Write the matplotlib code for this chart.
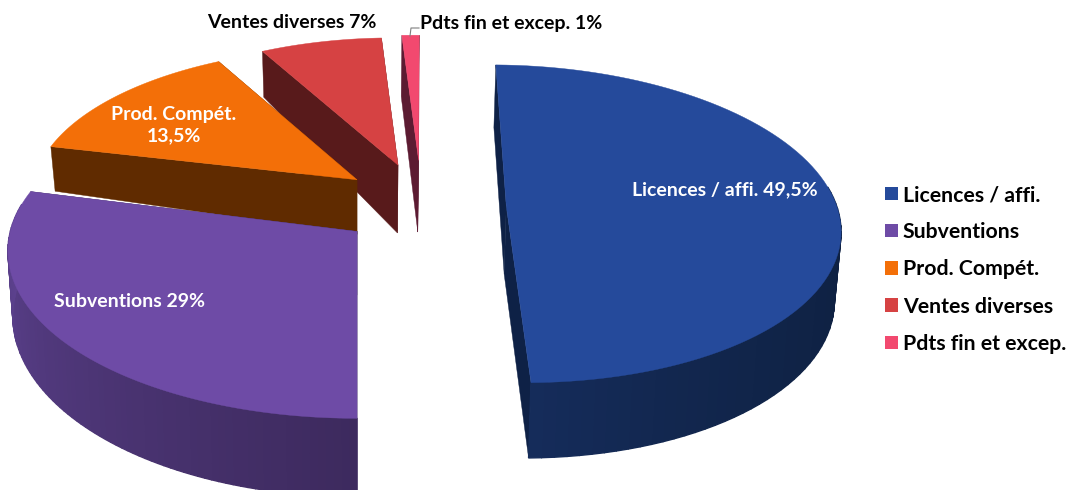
import numpy as np
import matplotlib
matplotlib.use("Agg")
import matplotlib.pyplot as plt
import matplotlib.colors as colors
from matplotlib.patches import Patch, Polygon

plt.rcParams['font.family'] = ['Lato', 'DejaVu Sans']

# ---data---
categories = ["Licences / affi.", "Subventions", "Prod. Compét.", "Ventes diverses", "Pdts fin et excep."]
shares = [49.5, 29, 13.5, 7, 1]
share_labels = ["Licences / affi. 49,5%", "Subventions 29%", "Prod. Compét.\n13,5%", "Ventes diverses 7%", "Pdts fin et excep. 1%"]

# ---styles---
top_colors = ["#254A9B", "#6E4BA6", "#F36F08", "#D64243", "#F2496F"]
side_start = ["#0E2040", "#3D2A5E", "#602B00", "#581A1B", "#5C1B32"]
side_end = ["#152C5A", "#604494", "#602B00", "#581A1B", "#5C1B32"]
wall_colors = ["#0E2146", "#3D2A5E", "#602B00", "#581A1B", "#5C1B32"]
grad_pow = [4, 1, 1, 1, 1]

# explosion offsets and radii of every slice, in pie radii
ox = [0.445, 0.0, 0.0, 0.126, 0.19]
oy = [0.12, -0.04, 0.29, 0.388, 0.42]
rx = [0.985, 1.015, 0.98, 0.95, 0.94]
ry = [1.0, 1.015, 0.97, 0.95, 0.94]
rot = [0.9, 1.8, 0.8, 1.0, 1.3]  # degrees
# wall height in pixels = p + q * y
depth_p = [60, 45, 0.6, 36, 58]
depth_q = [0.04, 0.08, 0.3, 0.193, 0.085]

# ---projection---
xv, yv = 357, -1189
H = 1414
F = 340
k = 0.114


def project(X, Y):
    w = 1 + k * Y
    return xv + F * X / w, yv + H / w


def sink(x, y, i):
    d = depth_p[i] + depth_q[i] * y
    return xv + (x - xv) * 0.986, y + d


fig = plt.figure(figsize=(10.69, 4.9), dpi=100)
ax = fig.add_axes([0, 0, 1, 1])
ax.set_xlim(0, 1069)
ax.set_ylim(490, 0)
ax.axis("off")

edges = np.cumsum([0] + shares) / sum(shares) * 2 * np.pi

# back slices first
for i in range(len(shares) - 1, -1, -1):
    t = np.linspace(edges[i], edges[i + 1], 90) + np.radians(rot[i])
    xa, ya = project(ox[i] + rx[i] * np.sin(t), oy[i] + ry[i] * np.cos(t))
    x0, y0 = project(ox[i], oy[i])
    # radial walls
    for xe, ye in [(xa[0], ya[0]), (xa[-1], ya[-1])]:
        xs = np.linspace(x0, xe, 40)
        ys = np.linspace(y0, ye, 40)
        xl, yl = sink(xs, ys, i)
        pts = np.column_stack([np.r_[xs, xl[::-1]], np.r_[ys, yl[::-1]]])
        ax.add_patch(Polygon(pts, closed=True, fc=wall_colors[i], ec=wall_colors[i], lw=0.3))
    # outer wall, small strips for the shading, only the side facing us
    c0 = np.array(colors.to_rgb(side_start[i]))
    c1 = np.array(colors.to_rgb(side_end[i]))
    xl, yl = sink(xa, ya, i)
    for j in range(len(t) - 1):
        if np.cos(t[j]) > 0.15:
            continue
        c = c0 + (c1 - c0) * (j / (len(t) - 2)) ** grad_pow[i]
        pts = [(xa[j], ya[j]), (xa[j + 1], ya[j + 1]), (xl[j + 1], yl[j + 1]), (xl[j], yl[j])]
        ax.add_patch(Polygon(pts, closed=True, fc=c, ec=c, lw=1.0))
    # top face
    pts = np.column_stack([np.r_[x0, xa], np.r_[y0, ya]])
    ax.add_patch(Polygon(pts, closed=True, fc=top_colors[i], ec=top_colors[i], lw=0.3))

# ---labels---
fs = 14
ax.text(725, 190, share_labels[0], color="white", fontweight="bold", fontsize=fs, ha="center", va="center")
ax.text(129, 301, share_labels[1], color="white", fontweight="bold", fontsize=fs, ha="center", va="center")
ax.text(174, 125, share_labels[2], color="white", fontweight="bold", fontsize=fs, ha="center", va="center", linespacing=1.3)
ax.text(292, 23, share_labels[3], color="black", fontweight="bold", fontsize=fs, ha="center", va="center")
ax.text(511, 23, share_labels[4], color="black", fontweight="bold", fontsize=fs, ha="center", va="center")
ax.plot([410, 411, 419], [36, 28, 28], color="#7F7F7F", lw=0.8)

handles = [Patch(facecolor=c, edgecolor="none") for c in top_colors]
ax.legend(handles, categories, loc="upper left", bbox_to_anchor=(885, 185), bbox_transform=ax.transData,
          frameon=False, prop={"weight": "bold", "size": 15.3}, handlelength=0.6, handleheight=0.6,
          handletextpad=0.24, labelspacing=0.81, borderpad=0, borderaxespad=0)

plt.savefig("out.png", dpi=100)
